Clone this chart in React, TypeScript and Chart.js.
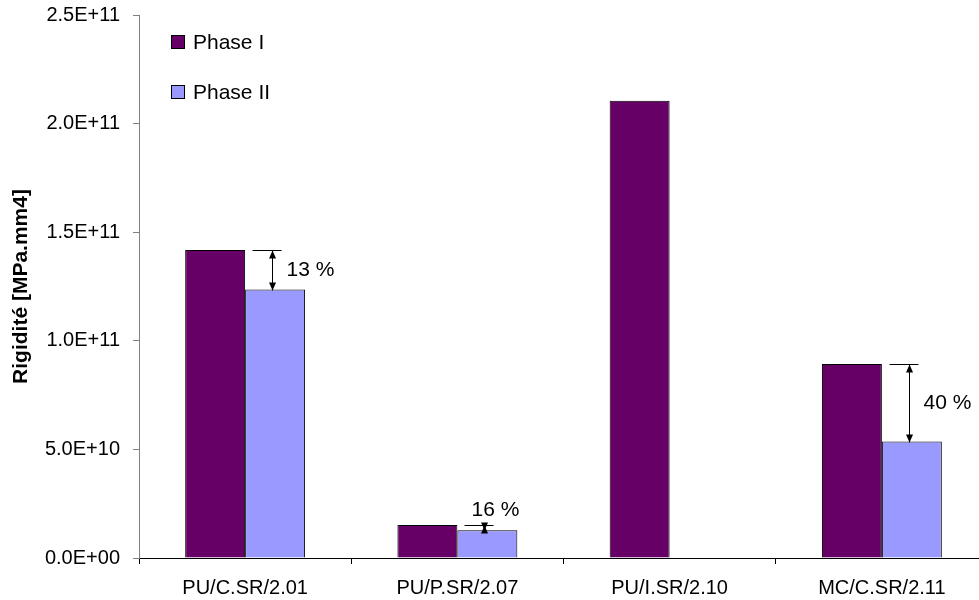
import React, { useEffect, useRef } from 'react';
import { Chart, registerables } from 'chart.js';

Chart.register(...registerables);

const categories = ['PU/C.SR/2.01', 'PU/P.SR/2.07', 'PU/I.SR/2.10', 'MC/C.SR/2.11'];
const seriesLabels = ['Phase I', 'Phase II'];
const phase1 = [1.418e11, 1.52e10, 2.105e11, 8.93e10];
const phase2: (number | null)[] = [1.236e11, 1.28e10, null, 5.36e10];
const reductionLabels: (string | null)[] = ['13 %', '16 %', null, '40 %'];
const yMin = 0;
const yMax = 2.5e11;
const yStep = 5e10;
const yTitle = 'Rigidité [MPa.mm4]';

const colors = ['#660066', '#9999FF'];
const FONT = '"Liberation Sans", Arial, sans-serif';
const FS_TICK = 20;
const FS_NOTE = 21;
const FS_TITLE = 21;

function fmtExp(v: number): string {
  const [m, e] = Number(v).toExponential(1).split('e');
  const sign = e[0] === '-' ? '-' : '+';
  const digits = e.replace(/^[+-]/, '').padStart(2, '0');
  return `${m}E${sign}${digits}`;
}

const overlayPlugin = {
  id: 'overlay',
  afterDatasetsDraw(chart: any) {
    const ctx = chart.ctx as CanvasRenderingContext2D;
    const ys = chart.scales.y;
    const area = chart.chartArea;
    const m1 = chart.getDatasetMeta(1);
    ctx.save();
    ctx.font = `${FS_NOTE}px ${FONT}`;
    ctx.fillStyle = '#000';
    ctx.strokeStyle = '#000';
    ctx.lineWidth = 1;
    reductionLabels.forEach((lab, i) => {
      const v2 = phase2[i];
      if (!lab || v2 == null) return;
      const b1 = m1.data[i];
      const yTop = Math.round(ys.getPixelForValue(phase1[i])) + 0.5;
      const yBot = Math.round(ys.getPixelForValue(v2)) + 0.5;
      const ax = Math.round(b1.x - 3) + 0.5;
      ctx.beginPath();
      ctx.moveTo(ax - 20, yTop);
      ctx.lineTo(ax + 9, yTop);
      ctx.stroke();
      ctx.beginPath();
      ctx.moveTo(ax, yTop);
      ctx.lineTo(ax, yBot);
      ctx.stroke();
      const hw = 3.5, hh = 8;
      ctx.beginPath();
      ctx.moveTo(ax, yTop);
      ctx.lineTo(ax - hw, yTop + hh);
      ctx.lineTo(ax + hw, yTop + hh);
      ctx.closePath();
      ctx.fill();
      ctx.beginPath();
      ctx.moveTo(ax, yBot);
      ctx.lineTo(ax - hw, yBot - hh);
      ctx.lineTo(ax + hw, yBot - hh);
      ctx.closePath();
      ctx.fill();
      if (yBot - yTop > 20) {
        ctx.textAlign = 'left';
        ctx.textBaseline = 'middle';
        ctx.fillText(lab, ax + 14, (yTop + yBot) / 2);
      } else {
        ctx.textAlign = 'center';
        ctx.textBaseline = 'middle';
        ctx.fillText(lab, ax + 11, yTop - 15);
      }
    });
    // legend
    seriesLabels.forEach((lab, i) => {
      const cy = area.top + 27 + i * 50;
      const x0 = area.left + 32;
      ctx.fillStyle = colors[i];
      ctx.fillRect(x0, cy - 7, 14, 14);
      ctx.strokeStyle = '#000';
      ctx.strokeRect(x0 + 0.5, cy - 6.5, 13, 13);
      ctx.fillStyle = '#000';
      ctx.textAlign = 'left';
      ctx.textBaseline = 'middle';
      ctx.fillText(lab, x0 + 22, cy + 1);
    });
    ctx.restore();
  },
};

export default function App() {
  const ref = useRef<HTMLCanvasElement | null>(null);
  useEffect(() => {
    if (!ref.current) return;
    const chart = new Chart(ref.current, {
      type: 'bar',
      data: {
        labels: categories,
        datasets: [
          {
            label: seriesLabels[0],
            data: phase1,
            backgroundColor: colors[0],
            borderColor: '#000',
            borderWidth: 1,
            categoryPercentage: 0.565,
            barPercentage: 1.0,
          },
          {
            label: seriesLabels[1],
            data: phase2,
            backgroundColor: colors[1],
            borderColor: '#000',
            borderWidth: 1,
            categoryPercentage: 0.565,
            barPercentage: 1.0,
          },
        ],
      },
      options: {
        responsive: false,
        animation: false,
        layout: { padding: { top: 15, left: 0, right: 0, bottom: 0 } },
        plugins: { legend: { display: false }, tooltip: { enabled: false } },
        scales: {
          x: {
            grid: { display: true, drawOnChartArea: false, offset: true, tickLength: 6, color: '#000' },
            border: { display: true, color: '#000', width: 1 },
            ticks: { font: { family: FONT, size: FS_TICK }, color: '#000', padding: 12, maxRotation: 0 },
            afterFit: (s: any) => { s.height = 42; s.paddingLeft = 0; s.paddingRight = 0; },
          },
          y: {
            min: yMin,
            max: yMax,
            ticks: {
              stepSize: yStep,
              callback: (v: any) => fmtExp(Number(v)),
              font: { family: FONT, size: FS_TICK },
              color: '#000',
              padding: 13,
            },
            grid: { display: true, drawOnChartArea: false, tickLength: 6, color: '#808080' },
            border: { display: true, color: '#808080', width: 1 },
            title: {
              display: true,
              text: yTitle,
              font: { family: FONT, size: FS_TITLE, weight: 'bold' },
              color: '#000',
              padding: { top: 9, bottom: 0 },
            },
            afterFit: (s: any) => { s.width = 139; s.paddingTop = 0; s.paddingBottom = 0; },
          },
        },
      },
      plugins: [overlayPlugin],
    });
    return () => chart.destroy();
  }, []);
  return (
    <div style={{ position: 'absolute', left: 0, top: 0, width: 979, height: 600, overflow: 'hidden', background: '#fff' }}>
      <canvas ref={ref} width={988} height={600} style={{ display: 'block' }} />
    </div>
  );
}
